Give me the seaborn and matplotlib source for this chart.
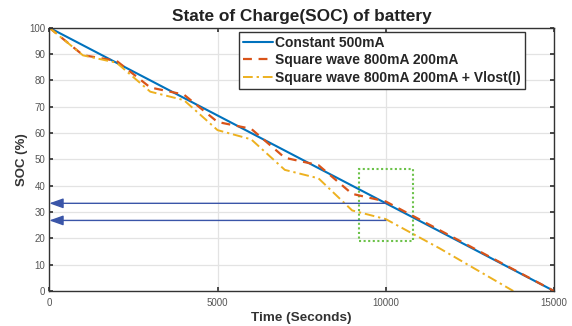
import matplotlib
matplotlib.use("Agg")
import matplotlib.pyplot as plt
import seaborn as sns
import pandas as pd
from matplotlib.patches import Rectangle

# ---- data ----
t_const = [0, 15000]
soc_const = [100, 0]

t_sq = [0, 1000, 2000, 3000, 4000, 5000, 6000, 7000, 8000, 9000, 10000, 15000]
soc_sq = [100, 89.6, 87.4, 77.3, 74.6, 64.2, 61.6, 50.6, 47.8, 36.9, 34.0, 0]

t_vl = [0, 1000, 2000, 3000, 4000, 5000, 6000, 7000, 8000, 9000, 10000, 11600, 13790]
soc_vl = [100, 89.5, 86.7, 75.7, 72.5, 61.1, 57.6, 46.0, 42.8, 30.6, 27.3, 16.2, 0]

labels = ["Constant 500mA", "Square wave 800mA 200mA", "Square wave 800mA 200mA + Vlost(I)"]

arrow_y = [33.3, 26.8]
arrow_x_from = 10000
arrow_x_to = 0

box_t = [9200, 10820]
box_soc = [19.0, 46.3]

xticks = [0, 5000, 10000, 15000]
yticks = list(range(0, 101, 10))

sns.set_theme(style="whitegrid")
plt.rcParams['font.family'] = ['Liberation Sans', 'DejaVu Sans']

fig = plt.figure(figsize=(5.72, 3.26), dpi=100)
ax = fig.add_axes([0.0862, 0.1074, 0.8823, 0.8076])

df1 = pd.DataFrame({"t": t_const, "soc": soc_const})
df2 = pd.DataFrame({"t": t_sq, "soc": soc_sq})
df3 = pd.DataFrame({"t": t_vl, "soc": soc_vl})

sns.lineplot(data=df1, x="t", y="soc", ax=ax, color="#0072BD", lw=1.5, label=labels[0])
sns.lineplot(data=df2, x="t", y="soc", ax=ax, color="#D95319", lw=1.6, label=labels[1])
sns.lineplot(data=df3, x="t", y="soc", ax=ax, color="#EDB120", lw=1.4, label=labels[2])
ax.lines[1].set_dashes([4, 3])
ax.lines[2].set_dashes([5, 2, 1.2, 2])

for yv in arrow_y:
    ax.annotate("", xy=(arrow_x_to, yv), xytext=(arrow_x_from, yv),
                arrowprops=dict(arrowstyle="-|>,head_length=0.7,head_width=0.25",
                                color="#3a55a8", lw=1.0, shrinkA=0, shrinkB=0))

ax.add_patch(Rectangle((box_t[0], box_soc[0]), box_t[1] - box_t[0], box_soc[1] - box_soc[0],
                       fill=False, edgecolor="#6cc24a", lw=1.5, linestyle=(0, (1, 1.2))))

ax.set_xlim(0, 15000)
ax.set_ylim(0, 100)
ax.set_xticks(xticks)
ax.set_yticks(yticks)
ax.tick_params(axis="both", labelsize=7, labelcolor="#555555", direction="in",
               length=3, color="#333333", top=True, right=True, bottom=True, left=True,
               pad=5)
ax.tick_params(axis="y", pad=3)
ax.grid(True, color="#e3e3e3", lw=0.9)
ax.set_facecolor("white")
for s in ax.spines.values():
    s.set_visible(True)
    s.set_color("#333333")
    s.set_linewidth(1.0)

ax.set_title("State of Charge(SOC) of battery", fontsize=12.4, fontweight="bold", color="#222222", pad=5)
ax.set_xlabel("Time (Seconds)", fontsize=9.7, fontweight="bold", color="#333333", labelpad=3)
ax.set_ylabel("SOC (%)", fontsize=9.5, fontweight="bold", color="#333333", labelpad=1)

leg = ax.legend(loc="upper right", bbox_to_anchor=(0.943, 0.985),
                prop={"weight": "bold", "size": 10}, frameon=True, fancybox=False,
                handlelength=2.1, handletextpad=0.2, borderpad=0.3, labelspacing=0.25,
                borderaxespad=0)
leg.get_frame().set_edgecolor("#333333")
leg.get_frame().set_linewidth(1.0)
leg.get_frame().set_alpha(1)

fig.savefig("out.png", dpi=100)
